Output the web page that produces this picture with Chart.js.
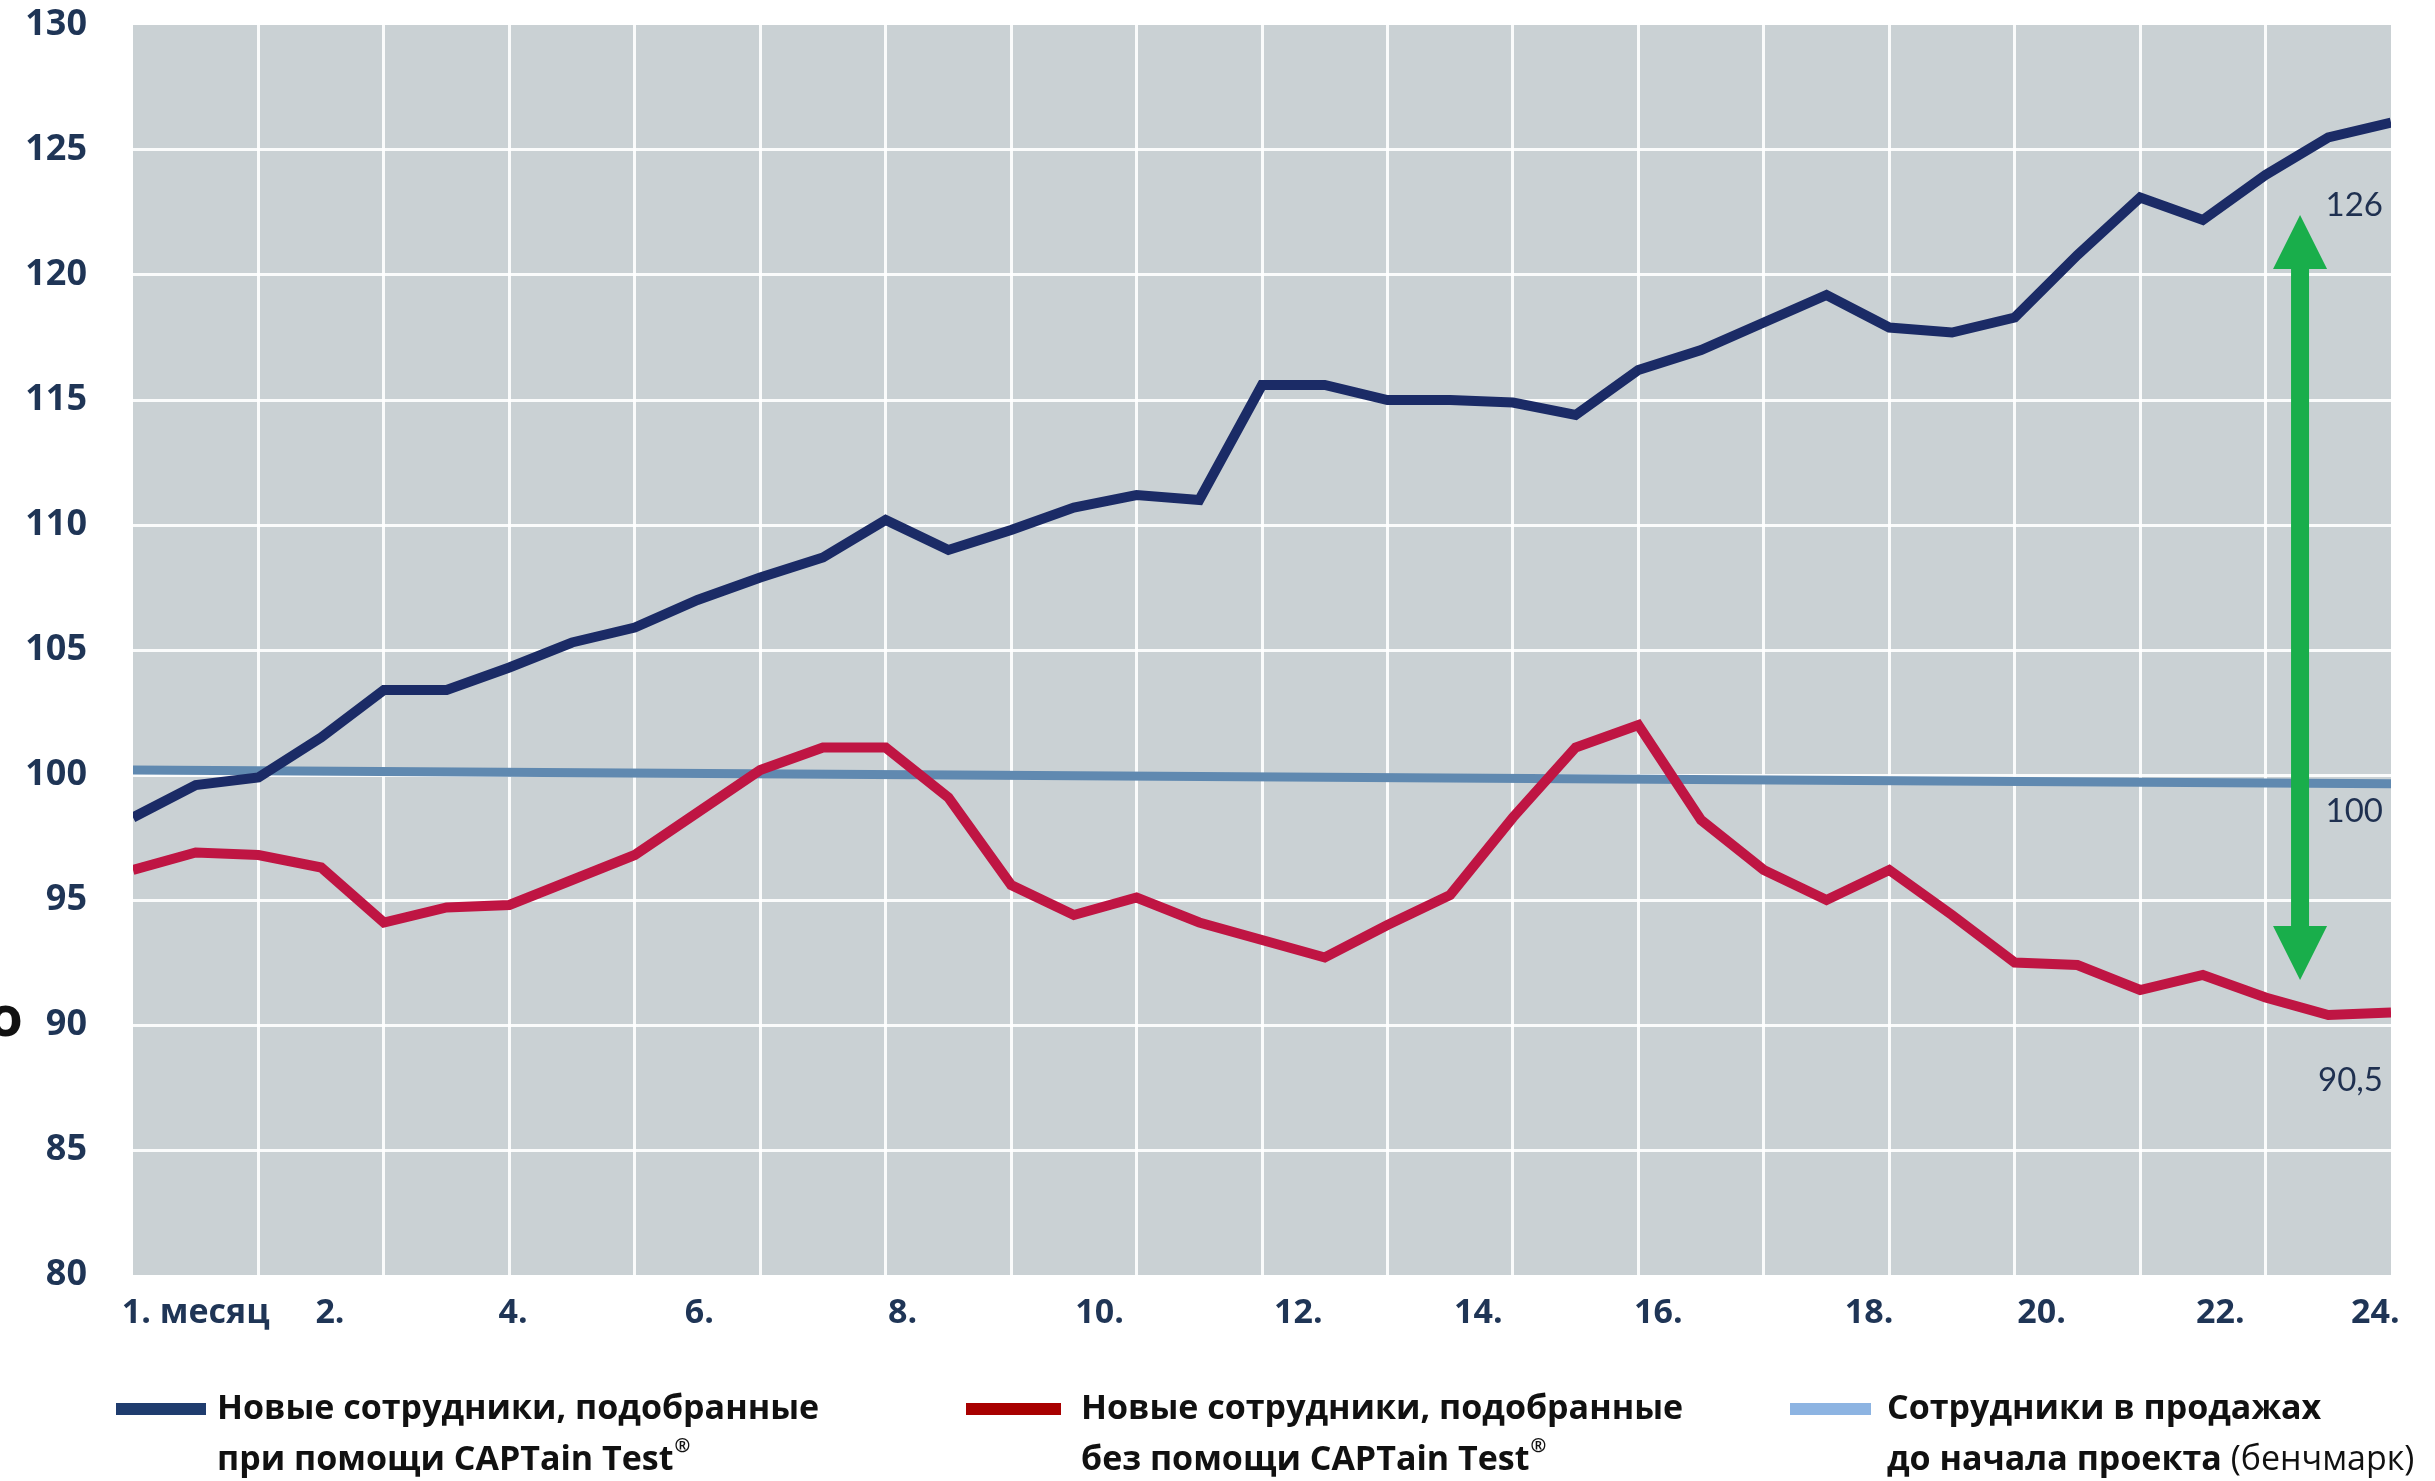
<!DOCTYPE html>
<html lang="ru">
<head>
<meta charset="utf-8">
<title>CAPTain Test</title>
<script src="https://cdn.jsdelivr.net/npm/chart.js@4.4.1/dist/chart.umd.min.js"></script>
<style>
  html, body { margin: 0; padding: 0; background: #fff; }
  #wrap { width: 2435px; height: 1481px; }
</style>
</head>
<body>
<div id="wrap"><canvas id="chart" width="2435" height="1481"></canvas></div>
<script>
// значения по полумесячным точкам (37 шт., индексы 0..36)
const blueValues = [98.3, 99.6, 99.9, 101.5, 103.4, 103.4, 104.3, 105.3, 105.9, 107.0,
  107.9, 108.7, 110.2, 109.0, 109.8, 110.7, 111.2, 111.0, 115.6, 115.6,
  115.0, 115.0, 114.9, 114.4, 116.2, 117.0, 118.1, 119.2, 117.9, 117.7,
  118.3, 120.8, 123.1, 122.2, 124.0, 125.5, 126.1];
const redValues = [96.2, 96.9, 96.8, 96.3, 94.1, 94.7, 94.8, 95.8, 96.8, 98.5,
  100.2, 101.1, 101.1, 99.1, 95.6, 94.4, 95.1, 94.1, 93.4, 92.7,
  94.0, 95.2, 98.3, 101.1, 102.0, 98.2, 96.2, 95.0, 96.2, 94.4,
  92.5, 92.4, 91.4, 92.0, 91.1, 90.4, 90.5];
const benchX = [0, 36];
const benchValues = [100.2, 99.65];

const seriesNames = [
  "Новые сотрудники, подобранные при помощи CAPTain Test®",
  "Новые сотрудники, подобранные без помощи CAPTain Test®",
  "Сотрудники в продажах до начала проекта (бенчмарк)"
];

const monthLabels = ["1. месяц", "2.", "4.", "6.", "8.", "10.", "12.", "14.", "16.", "18.", "20.", "22.", "24."];
const monthTickAt = [1.0, 3.14, 6.06, 9.03, 12.27, 15.41, 18.58, 21.45, 24.32, 27.68, 30.43, 33.28, 35.75];

const endLabels = ["126", "100", "90,5"];
const endLabelAt = [122.8, 98.55, 87.8];

const arrowAt = 34.55;
const arrowRange = [122.4, 91.8];

const navy = "#1f3556";

const toPoints = (vals) => vals.map((v, i) => ({ x: i, y: v }));

const plotBg = {
  id: "plotBg",
  beforeDraw(chart) {
    const { ctx, chartArea: a } = chart;
    ctx.save();
    ctx.fillStyle = "#cad1d4";
    ctx.fillRect(a.left, a.top, a.right - a.left, a.bottom - a.top);
    ctx.restore();
  }
};

const extras = {
  id: "extras",
  afterDatasetsDraw(chart) {
    const { ctx, chartArea: a } = chart;
    const xs = chart.scales.x, ys = chart.scales.y;

    // зелёная двойная стрелка
    const x = xs.getPixelForValue(arrowAt);
    const yTop = ys.getPixelForValue(arrowRange[0]);
    const yBot = ys.getPixelForValue(arrowRange[1]);
    const head = 54, hh = 27, hs = 9;
    ctx.save();
    ctx.fillStyle = "#19ae4b";
    ctx.beginPath();
    ctx.moveTo(x, yTop);
    ctx.lineTo(x + hh, yTop + head);
    ctx.lineTo(x + hs, yTop + head);
    ctx.lineTo(x + hs, yBot - head);
    ctx.lineTo(x + hh, yBot - head);
    ctx.lineTo(x, yBot);
    ctx.lineTo(x - hh, yBot - head);
    ctx.lineTo(x - hs, yBot - head);
    ctx.lineTo(x - hs, yTop + head);
    ctx.lineTo(x - hh, yTop + head);
    ctx.closePath();
    ctx.fill();

    // подписи справа
    ctx.fillStyle = "#1f3050";
    ctx.font = '33px "Lato"';
    ctx.textAlign = "right";
    ctx.textBaseline = "middle";
    endLabels.forEach((t, i) => {
      ctx.fillText(t, a.right - 8, ys.getPixelForValue(endLabelAt[i]));
    });
    ctx.restore();
  },
  afterDraw(chart) {
    const { ctx } = chart;
    ctx.save();
    ctx.textBaseline = "middle";
    ctx.fillStyle = "#111";

    // обрезанная буква слева
    ctx.textAlign = "right";
    ctx.font = 'bold 56px "Open Sans"';
    ctx.fillText("о", 23, 1020);
    ctx.textAlign = "left";

    const items = [
      { x: 116, w: 90, tx: 217, color: "#1f3c6e", lines: [[{ t: "Новые сотрудники, подобранные", b: true }],
        [{ t: "при помощи CAPTain Test", b: true }, { t: "®", sup: true }]] },
      { x: 966, w: 95, tx: 1081, color: "#a80000", lines: [[{ t: "Новые сотрудники, подобранные", b: true }],
        [{ t: "без помощи CAPTain Test", b: true }, { t: "®", sup: true }]] },
      { x: 1790, w: 81, tx: 1887, color: "#8db4e2", lines: [[{ t: "Сотрудники в продажах", b: true }],
        [{ t: "до начала проекта ", b: true }, { t: "(бенчмарк)", b: false }]] }
    ];
    const rowY = [1409, 1460];
    items.forEach((it) => {
      ctx.fillStyle = it.color;
      ctx.fillRect(it.x, rowY[0] - 6, it.w, 12);
      ctx.fillStyle = "#111";
      it.lines.forEach((segs, r) => {
        let tx = it.tx;
        segs.forEach(s => {
          if (s.sup) {
            ctx.font = 'bold 19px "Open Sans"';
            ctx.fillText(s.t, tx + 1, rowY[r] - 13);
          } else {
            ctx.font = (s.b ? "bold " : "") + '34px "Open Sans"';
            ctx.fillText(s.t, tx, rowY[r]);
          }
          tx += ctx.measureText(s.t).width;
        });
      });
    });
    ctx.restore();
  }
};

new Chart(document.getElementById("chart"), {
  type: "line",
  data: {
    datasets: [
      { label: seriesNames[0], data: toPoints(blueValues), borderColor: "#1b2b66", borderWidth: 10 },
      { label: seriesNames[1], data: toPoints(redValues), borderColor: "#bf1543", borderWidth: 10 },
      { label: seriesNames[2], data: benchX.map((x, i) => ({ x, y: benchValues[i] })), borderColor: "#6089b0", borderWidth: 9 }
    ]
  },
  options: {
    responsive: false,
    animation: false,
    layout: { padding: { left: 25, top: 25, right: 44, bottom: 136 } },
    elements: {
      point: { radius: 0 },
      line: { tension: 0, borderJoinStyle: "miter", borderCapStyle: "butt", fill: false }
    },
    plugins: { legend: { display: false }, tooltip: { enabled: false } },
    scales: {
      x: {
        type: "linear", min: 0, max: 36,
        grid: { display: false, drawTicks: false },
        border: { display: false },
        afterBuildTicks: (axis) => { axis.ticks = monthTickAt.map(v => ({ value: v })); },
        afterFit: (axis) => { axis.height = 70; axis.paddingLeft = 0; axis.paddingRight = 0; },
        ticks: {
          autoSkip: false, maxRotation: 0, padding: 18,
          color: navy, font: { family: "Open Sans", weight: "bold", size: 34 },
          callback: (v, i) => monthLabels[i]
        }
      },
      xg: {
        type: "linear", position: "bottom", min: 0, max: 36,
        border: { display: false },
        afterFit: (axis) => { axis.height = 0; axis.paddingLeft = 0; axis.paddingRight = 0; },
        ticks: { stepSize: 2, display: false },
        grid: {
          drawTicks: false, lineWidth: 3,
          color: (c) => (c.tick.value === 0 || c.tick.value === 36) ? "rgba(0,0,0,0)" : "rgba(255,255,255,0.9)"
        }
      },
      y: {
        min: 80, max: 130,
        border: { display: false },
        afterFit: (axis) => { axis.width = 108; axis.paddingTop = 0; axis.paddingBottom = 0; },
        ticks: {
          stepSize: 5, padding: 46,
          color: navy, font: { family: "Open Sans", weight: "bold", size: 36 }
        },
        grid: {
          drawTicks: false, lineWidth: 3,
          color: (c) => (c.tick.value === 80 || c.tick.value === 130) ? "rgba(0,0,0,0)" : "rgba(255,255,255,0.9)"
        }
      }
    }
  },
  plugins: [plotBg, extras]
});
</script>
</body>
</html>
